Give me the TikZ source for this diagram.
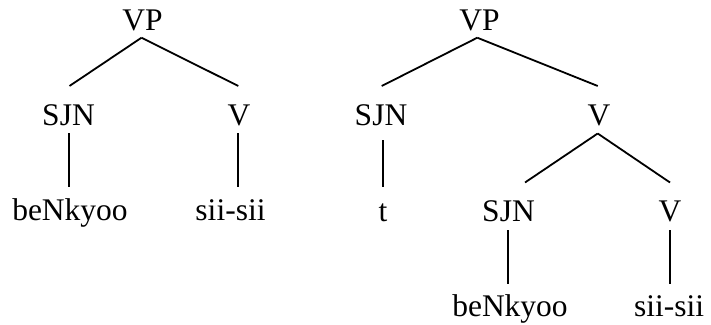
\documentclass[tikz,border=0pt]{standalone}
\usepackage{fontspec}
\setmainfont{Liberation Serif}
\usetikzlibrary{calc}
\begin{document}
\begin{tikzpicture}[x=1pt,y=1pt,
  lbl/.style={anchor=base,inner sep=0pt,font=\fontsize{31.5}{31.5}\selectfont},
  edge/.style={line width=1.8pt,line cap=butt}]
\useasboundingbox (0,0) rectangle (711,-324);
% left tree
\node[lbl] (vpL) at (142.5,-30) {VP};
\node[lbl] (sjnL) at (68.5,-125) {SJN};
\node[lbl] (vL) at (239,-125) {V};
\node[lbl] (benL) at (70,-220.5) {beNkyoo};
\node[lbl] (siiL) at (230.5,-220.5) {sii-sii};
% right tree
\node[lbl] (vpR) at (479.5,-30) {VP};
\node[lbl] (sjnR) at (381,-125) {SJN};
\node[lbl] (vR) at (599,-125) {V};
\node[lbl] (tR) at (383,-221) {t};
\node[lbl] (sjnR2) at (508.5,-221) {SJN};
\node[lbl] (vR2) at (670,-221) {V};
\node[lbl] (benR) at (510,-316) {beNkyoo};
\node[lbl] (siiR) at (669,-316) {sii-sii};
% left edges
\draw[edge] ($(vpL.base)+(-1,-7.7)$) -- ($(sjnL.base)+(1,39)$);
\draw[edge] ($(vpL.base)+(-1,-7.7)$) -- ($(vL.base)+(-0.7,39)$);
\draw[edge] ($(sjnL.base)+(0.5,-8.3)$) -- ($(sjnL.base |- benL.base)+(0.5,33.5)$);
\draw[edge] ($(vL.base)+(-1.3,-8.3)$) -- ($(vL.base |- siiL.base)+(-1.3,33.5)$);
% right edges
\draw[edge] ($(vpR.base)+(-2.2,-7.7)$) -- ($(sjnR.base)+(0.7,39)$);
\draw[edge] ($(vpR.base)+(-2.2,-7.7)$) -- ($(vR.base)+(-1.3,39)$);
\draw[edge] ($(sjnR.base)+(2.3,-15)$) -- ($(sjnR.base |- tR.base)+(2.3,34)$);
\draw[edge] ($(vR.base)+(-1.3,-8.5)$) -- ($(sjnR2.base)+(16.5,38.5)$);
\draw[edge] ($(vR.base)+(-1.3,-8.5)$) -- ($(vR2.base)+(0,38.5)$);
\draw[edge] ($(sjnR2.base)+(-0.8,-9)$) -- ($(sjnR2.base |- benR.base)+(-0.8,32)$);
\draw[edge] ($(vR2.base)+(0,-9)$) -- ($(vR2.base |- siiR.base)+(0,32)$);
\end{tikzpicture}
\end{document}
